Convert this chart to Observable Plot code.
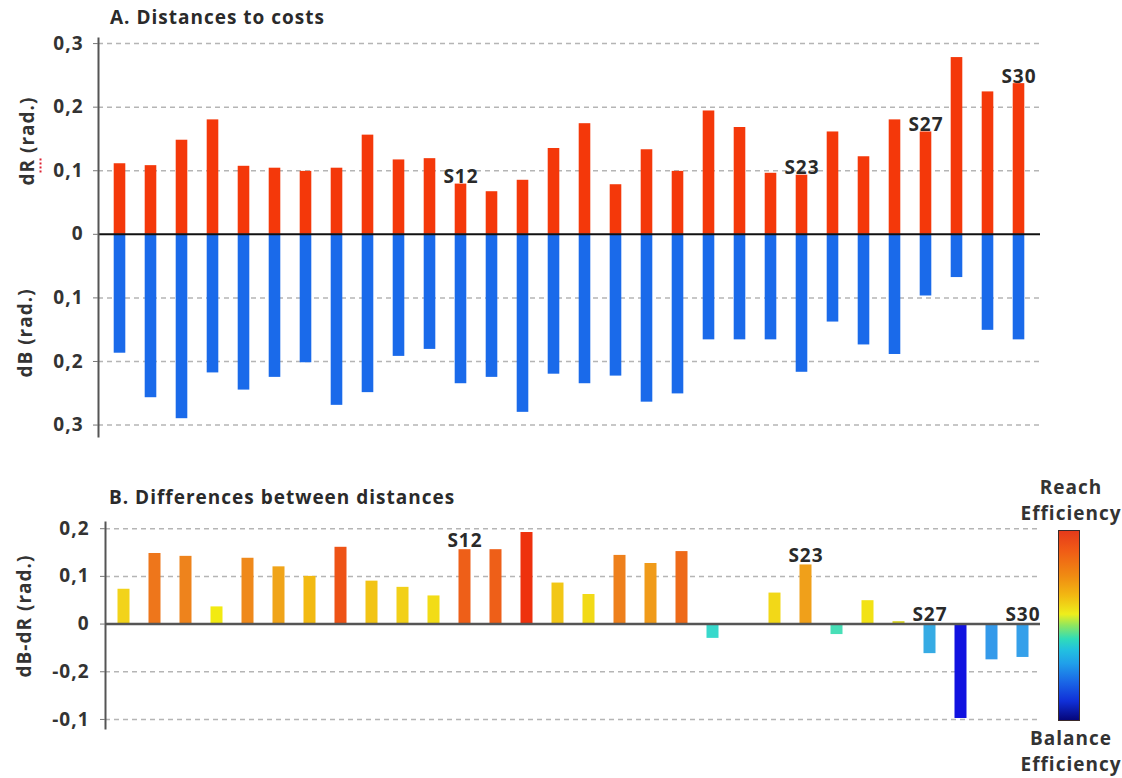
<!DOCTYPE html>
<html>
<head>
<meta charset="utf-8">
<script src="https://cdn.jsdelivr.net/npm/d3@7"></script>
<script src="https://cdn.jsdelivr.net/npm/@observablehq/plot@0.6"></script>
<style>
  body { margin: 0; background: #fff; }
  #root { position: relative; width: 1122px; height: 778px; overflow: hidden;
          font-family: "Open Sans", sans-serif; font-weight: 700; color: #333; letter-spacing: 1px; }
  .abs { position: absolute; white-space: nowrap; }
  .title { font-size: 19px; line-height: 19px; color: #2a2a2a; }
  .ylab { font-size: 19px; line-height: 19px; transform: translate(-50%, -50%) rotate(-90deg); color: #333; }
  .leg { font-size: 19px; line-height: 26px; text-align: center; width: 130px; color: #333; }
</style>
</head>
<body>
<div id="root">
  <div class="abs title" style="left:110px; top:8px;">A. Distances to costs</div>
  <div class="abs title" style="left:109px; top:488px;">B. Differences between distances</div>
  <div class="abs ylab" style="left:27px; top:141px;">d<span style="border-bottom: 2px dotted #d23;">R</span> (rad.)</div>
  <div class="abs ylab" style="left:25px; top:333px;">dB (rad.)</div>
  <div class="abs ylab" style="left:24px; top:616px;">dB-dR (rad.)</div>
  <div id="plotA" class="abs" style="left:0; top:0;"></div>
  <div id="plotB" class="abs" style="left:0; top:470px;"></div>
  <div class="abs" style="left:1058px; top:530px; width:20px; height:189px; border:1.5px solid #3a2a2a;
       background: linear-gradient(to bottom, #e63a1a 0%, #f05a16 10%, #f08c12 24%, #f2b812 34%, #eeee1c 44%, #8ee660 50%, #30dcb8 57%, #22c0e0 63%, #20a0ea 70%, #1a66e6 80%, #1030d8 90%, #06067a 100%);"></div>
  <div class="abs leg" style="left:1006px; top:474px;">Reach<br>Efficiency</div>
  <div class="abs leg" style="left:1006px; top:725px;">Balance<br>Efficiency</div>
</div>
<script>
// ---- data ----
const subjects = ["S1","S2","S3","S4","S5","S6","S7","S8","S9","S10",
                  "S11","S12","S13","S14","S15","S16","S17","S18","S19","S20",
                  "S21","S22","S23","S24","S25","S26","S27","S28","S29","S30"];
const dR = [0.111,0.108,0.148,0.180,0.107,0.104,0.099,0.104,0.156,0.117,
            0.119,0.079,0.067,0.085,0.135,0.174,0.078,0.133,0.099,0.194,
            0.168,0.096,0.093,0.161,0.122,0.180,0.161,0.278,0.224,0.237];
const dB = [0.187,0.257,0.290,0.218,0.245,0.225,0.202,0.269,0.249,0.192,
            0.181,0.235,0.225,0.280,0.220,0.235,0.223,0.264,0.251,0.166,
            0.166,0.166,0.217,0.138,0.174,0.189,0.097,0.068,0.151,0.166];
const diff = [0.073,0.148,0.142,0.036,0.138,0.120,0.100,0.161,0.090,0.077,
              0.059,0.156,0.156,0.192,0.086,0.062,0.144,0.127,0.152,-0.030,
              -0.003,0.065,0.124,-0.022,0.049,0.005,-0.062,-0.198,-0.075,-0.070];
const labeledA = ["S12","S23","S27","S30"];
const labeledB = ["S12","S23","S27","S30"];
const yTicksA = [-0.3,-0.2,-0.1,0,0.1,0.2,0.3];
const yLabelsA = ["0,3","0,2","0,1","0","0,1","0,2","0,3"];
const yTicksB = [0.2,0.1,0,-0.1,-0.2];
const yLabelsB = ["0,2","0,1","0","-0,2","-0,1"];
const colorStops = [-0.2,-0.07,-0.025,0.005,0.036,0.075,0.1,0.124,0.145,0.16,0.195];
const colorRange = ["#1010e0","#35a0ea","#38e0c8","#d8d420","#f2ea12","#f2d21a","#f2ba12","#f0a01a","#ee7e1c","#ee5416","#ee2e0c"];

const red = "#f4380a", blue = "#1a6aea";
const dataA = subjects.map((s, i) => ({subject: s, dR: dR[i], dB: dB[i]}));
const dataB = subjects.map((s, i) => ({subject: s, diff: diff[i]}));

const baseStyle = {fontFamily: "Open Sans, sans-serif", fontSize: "19px", fontWeight: 700,
                   color: "#333", background: "transparent", letterSpacing: "1px", overflow: "visible"};
const gridOpts = {stroke: "#b5b5b5", strokeOpacity: 1, strokeDasharray: "5,4", strokeWidth: 1.5};

const plotA = Plot.plot({
  width: 1122, height: 450,
  marginLeft: 98, marginRight: 82, marginTop: 38, marginBottom: 14,
  style: baseStyle,
  x: {type: "band", domain: subjects, padding: 0, axis: null},
  y: {domain: [-0.318, 0.308], axis: null},
  marks: [
    Plot.gridY(yTicksA.filter(d => d !== 0), gridOpts),
    Plot.barY(dataA, {x: "subject", y: "dR", fill: red, insetLeft: 9.7, insetRight: 9.7}),
    Plot.barY(dataA, {x: "subject", y: d => -d.dB, fill: blue, insetLeft: 9.7, insetRight: 9.7}),
    Plot.ruleY([0], {stroke: "#111", strokeWidth: 2}),
    Plot.frame({anchor: "left", stroke: "#555", strokeWidth: 2}),
    Plot.axisY(yTicksA, {anchor: "left", label: null, tickSize: 5, tickPadding: 10, stroke: "#777",
      tickFormat: d => yLabelsA[yTicksA.indexOf(d)], fill: "#333", fontSize: 19, fontWeight: 700}),
    Plot.text(dataA.filter(d => labeledA.includes(d.subject)),
      {x: "subject", y: "dR", text: "subject", lineAnchor: "bottom", dy: -1,
       fill: "#2a2a2a", fontSize: 19, fontWeight: 700})
  ]
});
document.getElementById("plotA").append(plotA);

const plotB = Plot.plot({
  width: 1122, height: 270,
  marginLeft: 105, marginRight: 82, marginTop: 52, marginBottom: 12,
  style: baseStyle,
  x: {type: "band", domain: subjects, padding: 0, axis: null},
  y: {domain: [-0.219, 0.213], axis: null},
  color: {type: "linear", domain: colorStops, range: colorRange, clamp: true},
  marks: [
    Plot.gridY(yTicksB.filter(d => d !== 0), gridOpts),
    Plot.barY(dataB, {x: "subject", y: "diff", fill: "diff", insetLeft: 9.5, insetRight: 9.5}),
    Plot.ruleY([0], {stroke: "#555", strokeWidth: 2.5}),
    Plot.frame({anchor: "left", stroke: "#555", strokeWidth: 2}),
    Plot.axisY(yTicksB, {anchor: "left", label: null, tickSize: 5, tickPadding: 11, stroke: "#777",
      tickFormat: d => yLabelsB[yTicksB.indexOf(d)], fill: "#333", fontSize: 19, fontWeight: 700}),
    Plot.text(dataB.filter(d => labeledB.includes(d.subject)),
      {x: "subject", y: d => Math.max(0, d.diff), text: "subject", lineAnchor: "bottom", dy: -3,
       fill: "#2a2a2a", fontSize: 19, fontWeight: 700})
  ]
});
document.getElementById("plotB").append(plotB);
</script>
</body>
</html>
